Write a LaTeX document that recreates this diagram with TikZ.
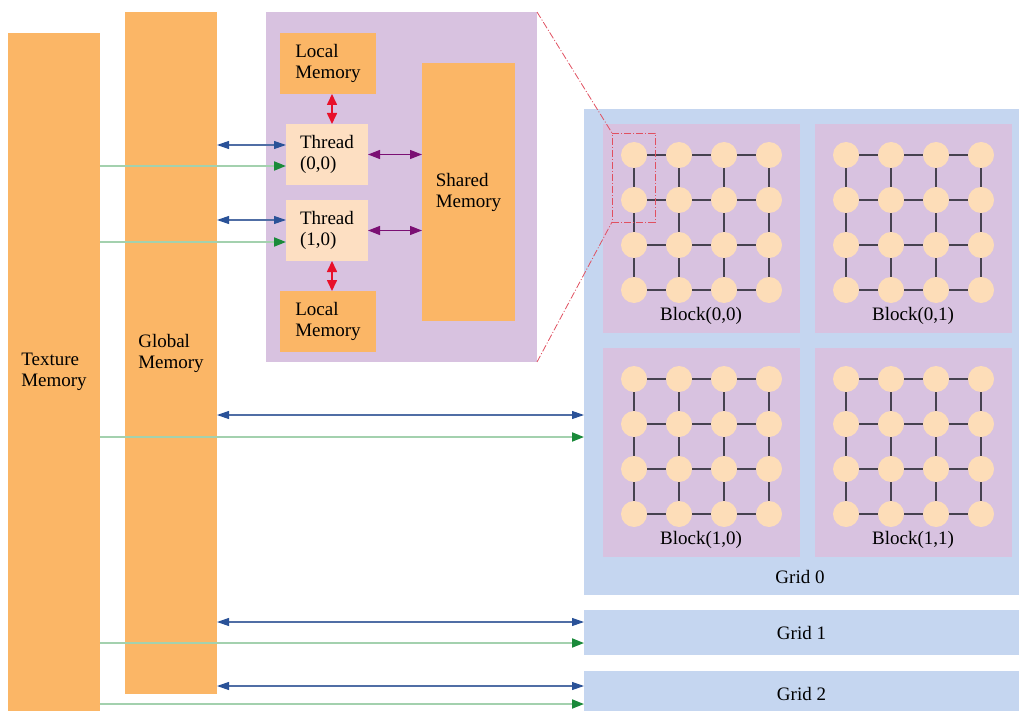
\documentclass[tikz,border=0pt]{standalone}
\usepackage{fontspec}
\setmainfont{Liberation Serif}
\usetikzlibrary{arrows.meta}
\definecolor{memorange}{RGB}{251,182,102}
\definecolor{blkpurple}{RGB}{216,194,224}
\definecolor{thrpeach}{RGB}{253,223,194}
\definecolor{gridblue}{RGB}{197,214,240}
\definecolor{dotpeach}{RGB}{253,221,184}
\definecolor{bluehead}{RGB}{42,82,152}
\definecolor{blueline}{RGB}{80,110,165}
\definecolor{greenhead}{RGB}{26,138,58}
\definecolor{greenline}{RGB}{163,209,174}
\definecolor{redarrow}{RGB}{232,16,42}
\definecolor{purparrow}{RGB}{123,15,116}
\definecolor{zoomred}{RGB}{224,80,96}
\definecolor{linkgray}{RGB}{70,66,80}
\tikzset{
  box/.style={anchor=north west, inner sep=0pt, outer sep=0pt, align=left, font=\fontsize{19}{21}\selectfont},
  mem/.style={box, fill=memorange},
  thr/.style={box, fill=thrpeach},
  lbl/.style={inner sep=0pt, font=\fontsize{19}{21}\selectfont},
  tdot/.style={circle, fill=dotpeach, minimum size=26pt, inner sep=0pt, outer sep=0pt},
  link/.style={draw=linkgray, line width=1.1pt},
  bluearr/.style={draw=blueline, line width=1.1pt, {Triangle[length=12pt,width=8pt,color=bluehead]}-{Triangle[length=12pt,width=8pt,color=bluehead]}},
  greenarr/.style={draw=greenline, line width=1.8pt, -{Triangle[length=12pt,width=9pt,color=greenhead]}},
  redarr/.style={draw=redarrow, line width=1.6pt, {Triangle[length=11pt,width=10pt]}-{Triangle[length=11pt,width=10pt]}},
  purparr/.style={draw=purparrow, line width=1.1pt, {Triangle[length=12pt,width=9pt]}-{Triangle[length=12pt,width=9pt]}},
  zoomline/.style={draw=zoomred, line width=0.8pt, dash pattern=on 7pt off 2pt on 1pt off 2pt}
}
\begin{document}
\begin{tikzpicture}[x=1pt,y=-1pt]
\useasboundingbox (0,0) rectangle (1019,711);
\node[mem, minimum width=92pt, minimum height=678pt] (tex) at (8,33) {Texture\\Memory};
\node[mem, minimum width=92pt, minimum height=682pt] (glob) at (125,12) {Global\\Memory};
\node[box, fill=blkpurple, minimum width=271pt, minimum height=350pt] (panel) at (266,12) {};
\node[mem, minimum width=96pt, minimum height=61pt] (lm0) at (280,33) {Local\\Memory};
\node[thr, minimum width=82pt, minimum height=61pt] (th00) at (286,124) {Thread\\(0,0)};
\node[thr, minimum width=82pt, minimum height=61pt] (th10) at (286,200) {Thread\\(1,0)};
\node[mem, minimum width=96pt, minimum height=61pt] (lm1) at (280,291) {Local\\Memory};
\node[mem, minimum width=93pt, minimum height=258pt] (shm) at (422,63) {Shared\\Memory};
\draw[redarr] ([xshift=4pt]lm0.south) -- ([xshift=4pt]lm0.south |- th00.north);
\draw[redarr] ([xshift=4pt]lm1.north) -- ([xshift=4pt]lm1.north |- th10.south);
\draw[purparr] (th00.east) -- (th00.east -| shm.west);
\draw[purparr] (th10.east) -- (th10.east -| shm.west);
\draw[bluearr] (glob.east |- 0,145) -- (th00.west |- 0,145);
\draw[bluearr] (glob.east |- 0,220) -- (th10.west |- 0,220);
\draw[greenarr] (tex.east |- 0,166) -- (th00.west |- 0,166);
\draw[greenarr] (tex.east |- 0,242) -- (th10.west |- 0,242);
\node[box, fill=gridblue, minimum width=435pt, minimum height=486pt] (grid0) at (584,109) {};
\node[lbl] (grid0lbl) at (800,577) {Grid 0};
\foreach \bx/\by/\r/\c in {603/124/0/0, 815/124/0/1, 603/348/1/0, 815/348/1/1} {
  \node[box, fill=blkpurple, minimum width=197pt, minimum height=209pt] (blk\r\c) at (\bx,\by) {};
  \foreach \i in {0,...,3}
    \foreach \j in {0,...,3}
      \node[tdot] (t\r\c\i\j) at (\bx+31+45*\i,\by+31+45*\j) {};
  \foreach \i [evaluate=\i as \ni using int(\i+1)] in {0,...,2}
    \foreach \j in {0,...,3} {
      \draw[link] (t\r\c\i\j) -- (t\r\c\ni\j);
      \draw[link] (t\r\c\j\i) -- (t\r\c\j\ni);
    }
  \node[lbl] (blk\r\c lbl) at (\bx+98,\by+192) {Block(\r,\c)};
}
\node[box, zoomline, minimum width=43pt, minimum height=89pt] (sel) at (612,133) {};
\draw[zoomline] (panel.north east) -- (sel.north west);
\draw[zoomline] (panel.south east) -- (sel.south west);
\draw[bluearr] (glob.east |- 0,415) -- (grid0.west |- 0,415);
\draw[greenarr] (tex.east |- 0,437) -- (grid0.west |- 0,437);
\node[box, fill=gridblue, minimum width=435pt, minimum height=45pt] (grid1) at (584,610) {Grid 1};
\node[box, fill=gridblue, minimum width=435pt, minimum height=45pt] (grid2) at (584,671) {Grid 2};
\draw[bluearr] (glob.east |- 0,622) -- (grid1.west |- 0,622);
\draw[greenarr] (tex.east |- 0,643) -- (grid1.west |- 0,643);
\draw[bluearr] (glob.east |- 0,686) -- (grid2.west |- 0,686);
\draw[greenarr] (tex.east |- 0,704) -- (grid2.west |- 0,704);
\end{tikzpicture}
\end{document}
